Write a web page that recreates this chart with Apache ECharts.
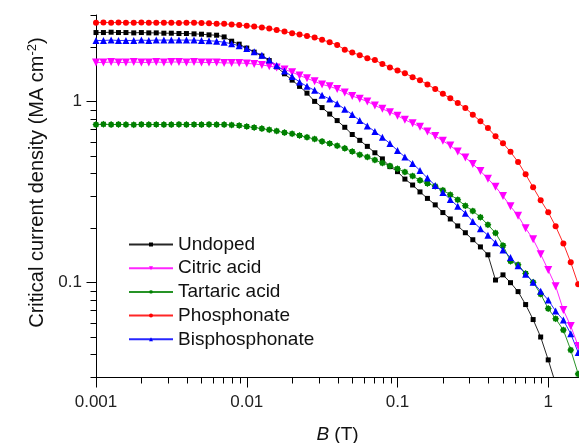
<!DOCTYPE html>
<html>
<head>
<meta charset="utf-8">
<script src="https://cdn.jsdelivr.net/npm/echarts@6/dist/echarts.min.js"></script>
<style>
  html, body { margin: 0; padding: 0; background: #ffffff; }
  #chart { width: 579px; height: 443px; }
</style>
</head>
<body>
<div id="chart"></div>
<script>
// magnetic field B (T)
var fieldB = [
  0.001, 0.00112, 0.00126, 0.00141, 0.00158, 0.00178, 0.002, 0.00224, 0.00251, 0.00282,
  0.00316, 0.00355, 0.00398, 0.00447, 0.00501, 0.00562, 0.00631, 0.00708, 0.00794, 0.00891,
  0.01, 0.0112, 0.0126, 0.0141, 0.0158, 0.0178, 0.02, 0.0224, 0.0251, 0.0282,
  0.0316, 0.0355, 0.0398, 0.0447, 0.0501, 0.0562, 0.0631, 0.0708, 0.0794, 0.0891,
  0.1, 0.112, 0.126, 0.141, 0.158, 0.178, 0.2, 0.224, 0.251, 0.282,
  0.316, 0.355, 0.398, 0.447, 0.501, 0.562, 0.631, 0.708, 0.794, 0.891,
  1, 1.12, 1.26, 1.41, 1.58
]

// critical current density (MA cm-2)
var undoped = [
  2.40, 2.40, 2.41, 2.40, 2.40, 2.39, 2.40, 2.39, 2.39, 2.38, 2.38, 2.37, 2.37,
  2.36, 2.35, 2.33, 2.32, 2.27, 2.15, 2.07, 1.97,
  1.87, 1.78, 1.68, 1.55, 1.42, 1.31, 1.21, 1.11, 1.00, 0.924,
  0.851, 0.783, 0.719, 0.656, 0.609, 0.564, 0.520, 0.481, 0.436, 0.409,
  0.372, 0.345, 0.316, 0.291, 0.268, 0.243, 0.224, 0.205, 0.188, 0.172,
  0.157, 0.142, 0.103, 0.110, 0.0996, 0.0889, 0.0754, 0.0623, 0.0499, 0.0373, 0.0275
]
var citric = [
  1.64, 1.64, 1.65, 1.64, 1.64, 1.65, 1.64, 1.64, 1.65, 1.64, 1.65, 1.65, 1.64,
  1.65, 1.64, 1.64, 1.64, 1.63, 1.63, 1.63, 1.62,
  1.61, 1.59, 1.565, 1.54, 1.50, 1.45, 1.39, 1.34, 1.29, 1.24,
  1.21, 1.17, 1.12, 1.07, 1.035, 0.999, 0.949, 0.909, 0.872, 0.834,
  0.791, 0.756, 0.724, 0.681, 0.643, 0.605, 0.570, 0.528, 0.490, 0.451,
  0.412, 0.374, 0.337, 0.300, 0.263, 0.233, 0.199, 0.173, 0.143, 0.117,
  0.0953, 0.0703, 0.0574, 0.0445
]
var tartaric = [
  0.744, 0.748, 0.744, 0.746, 0.744, 0.743, 0.746, 0.744, 0.745, 0.744, 0.744, 0.746, 0.744,
  0.745, 0.744, 0.746, 0.744, 0.744, 0.740, 0.735, 0.726,
  0.717, 0.707, 0.696, 0.685, 0.672, 0.662, 0.647, 0.634, 0.619, 0.601,
  0.585, 0.569, 0.550, 0.528, 0.507, 0.493, 0.474, 0.456, 0.440, 0.424,
  0.407, 0.387, 0.366, 0.352, 0.340, 0.323, 0.305, 0.286, 0.265, 0.248,
  0.229, 0.208, 0.1875, 0.160, 0.131, 0.125, 0.112, 0.100, 0.0861, 0.0716,
  0.0630, 0.0545, 0.0423, 0.0312
]
var phosphonate = [
  2.72, 2.73, 2.72, 2.73, 2.72, 2.72, 2.73, 2.72, 2.72, 2.72, 2.72, 2.71, 2.72,
  2.72, 2.71, 2.70, 2.68, 2.68, 2.66, 2.64, 2.62,
  2.59, 2.56, 2.53, 2.48, 2.43, 2.38, 2.34, 2.30, 2.25, 2.19,
  2.12, 2.05, 1.93, 1.86, 1.80, 1.73, 1.69, 1.61, 1.54, 1.48,
  1.43, 1.36, 1.31, 1.24, 1.17, 1.10, 1.04, 0.98, 0.92, 0.843,
  0.777, 0.712, 0.641, 0.587, 0.526, 0.462, 0.395, 0.335, 0.284, 0.244,
  0.204, 0.164, 0.129, 0.0977
]
var bisphosphonate = [
  2.17, 2.17, 2.18, 2.17, 2.17, 2.17, 2.18, 2.17, 2.18, 2.18, 2.18, 2.18, 2.18,
  2.18, 2.17, 2.16, 2.15, 2.12, 2.08, 2.03, 1.96,
  1.88, 1.80, 1.69, 1.58, 1.47, 1.37, 1.28, 1.21, 1.15, 1.08,
  1.03, 0.971, 0.905, 0.845, 0.783, 0.731, 0.681, 0.633, 0.585, 0.535,
  0.493, 0.454, 0.415, 0.377, 0.343, 0.314, 0.287, 0.263, 0.241, 0.217,
  0.198, 0.182, 0.1655, 0.151, 0.137, 0.1236, 0.111, 0.100, 0.0894, 0.0798,
  0.0694, 0.0619, 0.052, 0.041
]

var seriesNames = ["Undoped", "Citric acid", "Tartaric acid", "Phosphonate", "Bisphosphonate"]

// tick marks (Origin style, decades + minor)
var xMajorTicks = [0.001, 0.01, 0.1, 1]
var xMinorTicks = [
  0.002, 0.003, 0.004, 0.005, 0.006, 0.007, 0.008, 0.009,
  0.02, 0.03, 0.04, 0.05, 0.06, 0.07, 0.08, 0.09,
  0.2, 0.3, 0.4, 0.5, 0.6, 0.7, 0.8, 0.9
]
var yMajorTicks = [0.1, 1]
var yMinorTicks = [0.03, 0.04, 0.05, 0.06, 0.07, 0.08, 0.09, 0.2, 0.3, 0.4, 0.5, 0.6, 0.7, 0.8, 0.9, 2, 3]

var xMin = 0.001, xMax = 1.6, yMin = 0.03, yMax = 3

var font = "Liberation Sans, Arial, sans-serif"
var starPath = "path://M1,0 L0.7206,0.2985 L0.7071,0.7071 L0.2985,0.7206 L0,1 L-0.2985,0.7206 L-0.7071,0.7071 L-0.7206,0.2985 L-1,0 L-0.7206,-0.2985 L-0.7071,-0.7071 L-0.2985,-0.7206 L0,-1 L0.2985,-0.7206 L0.7071,-0.7071 L0.7206,-0.2985 Z"

function pairs(ys) {
  return ys.map(function (y, i) { return [fieldB[i], y] })
}

function isDecade(v) {
  var l = Math.log10(v)
  return Math.abs(l - Math.round(l)) < 1e-6
}

function lineSeries(name, ys, color, symbol, size, rotate) {
  return {
    name: name,
    type: "line",
    data: pairs(ys),
    symbol: symbol,
    symbolSize: size,
    symbolRotate: rotate || 0,
    clip: true,
    lineStyle: { color: color, width: 1, opacity: 0.85 },
    itemStyle: { color: color },
    emphasis: { disabled: true }
  }
}

var tickData = []
xMajorTicks.forEach(function (v) { tickData.push([v, yMin, 0, 10]) })
xMinorTicks.forEach(function (v) { tickData.push([v, yMin, 0, 6]) })
yMajorTicks.forEach(function (v) { tickData.push([xMin, v, 1, 10]) })
yMinorTicks.forEach(function (v) { tickData.push([xMin, v, 1, 6]) })

var chart = echarts.init(document.getElementById("chart"))
chart.setOption({
  animation: false,
  backgroundColor: "#ffffff",
  grid: { left: 96, right: 0, top: 15, bottom: 66, containLabel: false, outerBoundsMode: "none" },
  legend: {
    data: seriesNames,
    orient: "vertical",
    left: 128,
    top: 235,
    padding: 0,
    itemWidth: 44,
    itemHeight: 5,
    itemGap: 4.7,
    textStyle: { fontFamily: font, fontSize: 19, color: "#111" }
  },
  xAxis: {
    type: "log",
    logBase: 10,
    min: xMin,
    max: xMax,
    name: "{i|B} (T)",
    nameLocation: "middle",
    nameGap: 48,
    nameTextStyle: {
      fontFamily: font, fontSize: 19, color: "#111",
      rich: { i: { fontFamily: font, fontSize: 19, fontStyle: "italic", color: "#111" } }
    },
    axisLine: { onZero: false, lineStyle: { color: "#000", width: 1 } },
    axisTick: { show: false },
    minorTick: { show: false },
    splitLine: { show: false },
    axisLabel: {
      margin: 17,
      fontFamily: font,
      fontSize: 17,
      color: "#222",
      formatter: function (v) { return isDecade(v) ? String(+v.toPrecision(3)) : "" }
    }
  },
  yAxis: {
    type: "log",
    logBase: 10,
    min: yMin,
    max: yMax,
    name: "{a|Critical current density (MA cm}{s|-2}{a|)}",
    nameLocation: "middle",
    nameGap: 48,
    nameTextStyle: {
      padding: [0, 0, 0, 27],
      rich: {
        a: { fontFamily: font, fontSize: 20, color: "#111", lineHeight: 22 },
        s: { fontFamily: font, fontSize: 13, color: "#111", verticalAlign: "top", lineHeight: 22 }
      }
    },
    axisLine: { onZero: false, lineStyle: { color: "#000", width: 1 } },
    axisTick: { show: false },
    minorTick: { show: false },
    splitLine: { show: false },
    axisLabel: {
      margin: 14,
      fontFamily: font,
      fontSize: 17,
      color: "#222",
      formatter: function (v) { return isDecade(v) ? String(+v.toPrecision(3)) : "" }
    }
  },
  series: [
    lineSeries("Undoped", undoped, "#000000", "rect", 5),
    lineSeries("Citric acid", citric, "#ff00ff", "triangle", 8, 180),
    lineSeries("Tartaric acid", tartaric, "#008000", starPath, 7),
    lineSeries("Phosphonate", phosphonate, "#ff0000", "circle", 6),
    lineSeries("Bisphosphonate", bisphosphonate, "#0000ff", "triangle", 7),
    {
      type: "custom",
      silent: true,
      z: 10,
      data: tickData,
      renderItem: function (params, api) {
        var p = api.coord([api.value(0), api.value(1)])
        var len = api.value(3)
        var x = Math.round(p[0]) + 0.5
        var y = Math.round(p[1]) + 0.5
        var shape = api.value(2) === 0
          ? { x1: x, y1: y, x2: x, y2: y + len }
          : { x1: x, y1: y, x2: x - len, y2: y }
        return { type: "line", shape: shape, style: { stroke: "#000", lineWidth: 1 } }
      }
    }
  ]
})
</script>
</body>
</html>
